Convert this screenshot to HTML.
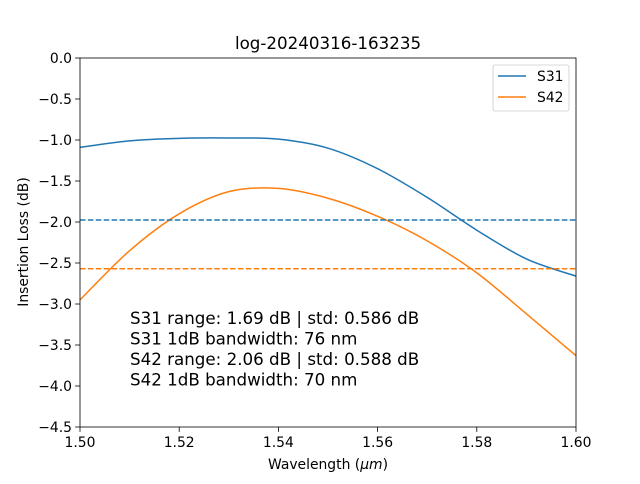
<!DOCTYPE html>
<html><head><meta charset="utf-8"><style>
body{margin:0;background:#fff;font-family:"DejaVu Sans","Liberation Sans",sans-serif}
text{font-family:"DejaVu Sans","Liberation Sans",sans-serif}
</style></head><body>
<svg id="c" width="640" height="480" xmlns="http://www.w3.org/2000/svg"></svg>
<script>
const wavelengths=[1.50,1.51,1.52,1.53,1.54,1.55,1.56,1.57,1.58,1.59,1.60];
const s31=[-1.09,-1.01,-0.98,-0.975,-0.99,-1.10,-1.35,-1.70,-2.10,-2.45,-2.66];
const s42=[-2.95,-2.35,-1.90,-1.63,-1.59,-1.71,-1.93,-2.23,-2.62,-3.12,-3.63];
const s31Mean=-1.975;
const s42Mean=-2.57;
const xTicks=[1.50,1.52,1.54,1.56,1.58,1.60];
const yTicks=[0,-0.5,-1,-1.5,-2,-2.5,-3,-3.5,-4,-4.5];
const annotations=["S31 range: 1.69 dB | std: 0.586 dB","S31 1dB bandwidth: 76 nm","S42 range: 2.06 dB | std: 0.588 dB","S42 1dB bandwidth: 70 nm"];
const L=80,R=576,T=58,B=427;
const xs=v=>L+(v-1.50)/0.10*(R-L);
const ys=v=>T+(0-v)/4.5*(B-T);
const svg=document.getElementById('c');
const NS='http://www.w3.org/2000/svg';
function mk(tag,attrs,name,parent){const e=document.createElementNS(NS,tag);for(const k in attrs)e.setAttribute(k,attrs[k]);


(parent||svg).appendChild(e);return e;}
mk('rect',{x:L,y:T,width:R-L,height:B-T,fill:'#fff',stroke:'none'},'plot-area');
function curve(vals){let pts=wavelengths.map((w,i)=>[xs(w),ys(vals[i])]);let d='M'+pts[0][0]+','+pts[0][1];
for(let i=0;i<pts.length-1;i++){const p0=pts[Math.max(0,i-1)],p1=pts[i],p2=pts[i+1],p3=pts[Math.min(pts.length-1,i+2)];
d+=` C${p1[0]+(p2[0]-p0[0])/6},${p1[1]+(p2[1]-p0[1])/6} ${p2[0]-(p3[0]-p1[0])/6},${p2[1]-(p3[1]-p1[1])/6} ${p2[0]},${p2[1]}`;}return d;}
mk('path',{d:curve(s31),fill:'none',stroke:'#1f77b4','stroke-width':1.5},'s31-line');
mk('path',{d:curve(s42),fill:'none',stroke:'#ff7f0e','stroke-width':1.5},'s42-line');
mk('line',{x1:L,x2:R,y1:ys(s31Mean),y2:ys(s31Mean),stroke:'#1f77b4','stroke-width':1.5,'stroke-dasharray':'5.5,2.4'},'s31-mean-line');
mk('line',{x1:L,x2:R,y1:ys(s42Mean),y2:ys(s42Mean),stroke:'#ff7f0e','stroke-width':1.5,'stroke-dasharray':'5.5,2.4'},'s42-mean-line');
mk('rect',{x:L,y:T,width:R-L,height:B-T,fill:'none',stroke:'#000','stroke-width':0.8},'axes-frame');
xTicks.forEach(t=>{const x=xs(t);mk('line',{x1:x,x2:x,y1:B,y2:B+4.9,stroke:'#000','stroke-width':0.8},'x-tick');
const tx=mk('text',{x:x,y:B+20,'font-size':13.9,'text-anchor':'middle'},'x-tick-label');tx.textContent=t.toFixed(2);});
yTicks.forEach(t=>{const y=ys(t);mk('line',{x1:L-4.9,x2:L,y1:y,y2:y,stroke:'#000','stroke-width':0.8},'y-tick');
const tx=mk('text',{x:L-8,y:y+5,'font-size':13.9,'text-anchor':'end'},'y-tick-label');tx.textContent=(t===0?'0.0':t.toFixed(1).replace('-','\u2212'));});
let e=mk('text',{x:328,y:49,'font-size':16.7,'text-anchor':'middle'},'chart-title');e.textContent='log-20240316-163235';
e=mk('text',{x:328,y:469,'font-size':13.9,'text-anchor':'middle'},'x-axis-title');e.innerHTML='Wavelength (<tspan font-style="italic">μm</tspan>)';
e=mk('text',{x:0,y:0,'font-size':13.9,'text-anchor':'middle',transform:'translate(28,242) rotate(-90)'},'y-axis-title');e.textContent='Insertion Loss (dB)';
annotations.forEach((a,i)=>{const t=mk('text',{x:130,y:324+i*20.5,'font-size':16.7}, 'annotation-line');t.textContent=a;});
const g=mk('g',{},'legend');
mk('rect',{x:493,y:65,width:76,height:46,fill:'#fff',stroke:'#ccc','stroke-width':0.8,rx:2},'legend-box',g);
[['S31','#1f77b4'],['S42','#ff7f0e']].forEach((s,i)=>{const y=76+i*21;
mk('line',{x1:498,x2:526,y1:y,y2:y,stroke:s[1],'stroke-width':1.5},'legend-swatch',g);
const t=mk('text',{x:537,y:y+5,'font-size':13.9},'legend-entry',g);t.textContent=s[0];});
</script>
</body></html>
